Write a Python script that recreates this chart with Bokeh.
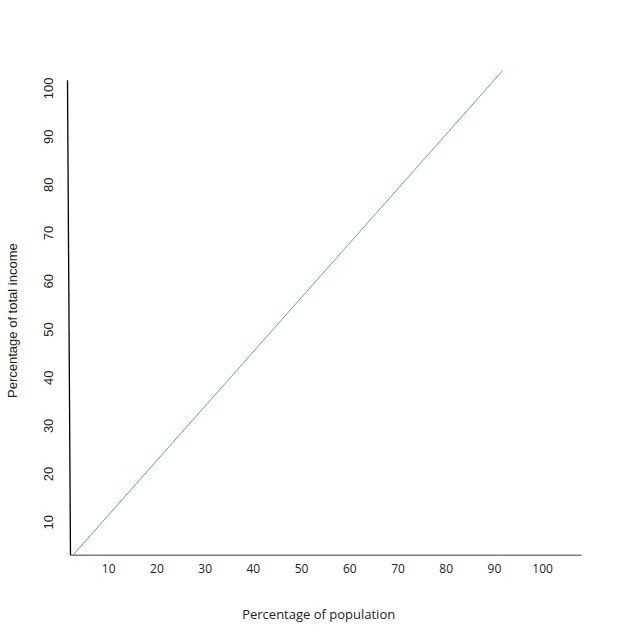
from bokeh.plotting import figure
from bokeh.models import Range1d, FixedTicker
from bokeh.embed import file_html
from bokeh.resources import INLINE

# data
x_ticks = [10, 20, 30, 40, 50, 60, 70, 80, 90, 100]
y_ticks = [10, 20, 30, 40, 50, 60, 70, 80, 90, 100]
equality_x = [2.5, 91.7]
equality_y = [3.1, 103.7]
yaxis_x = [1.45, 2.07]
yaxis_y = [101.7, 3.11]
xaxis_x = [2.07, 108.1]
xaxis_y = [3.11, 3.11]

NBSP = "\u00a0"

p = figure(frame_width=540, frame_height=495, output_backend="svg", toolbar_location=None,
           x_range=Range1d(0, 112.0), y_range=Range1d(3.11, 105.8),
           min_border_left=60, min_border_right=20, min_border_top=60, min_border_bottom=72)
p.outline_line_color = None
p.xgrid.visible = False
p.ygrid.visible = False

for ax in (p.xaxis[0], p.yaxis[0]):
    ax.axis_line_color = None
    ax.major_tick_line_color = None
    ax.minor_tick_line_color = None
    ax.major_tick_out = 0
    ax.major_tick_in = 0
    ax.axis_label_text_font_style = "normal"
    ax.axis_label_text_color = "#222222"
    ax.major_label_text_color = "#222222"

p.xaxis.ticker = FixedTicker(ticks=x_ticks)
p.yaxis.ticker = FixedTicker(ticks=y_ticks)
p.xaxis.axis_label = "Percentage of population" + NBSP * 7
p.yaxis.axis_label = "Percentage of total income" + NBSP * 7
p.xaxis.major_label_text_font = "Open Sans"
p.xaxis.major_label_text_font_size = "12px"
p.yaxis.major_label_text_font = "Liberation Sans"
p.yaxis.major_label_text_font_size = "13px"
p.yaxis.major_label_orientation = "vertical"
p.xaxis.axis_label_text_font = "Open Sans"
p.yaxis.axis_label_text_font = "Liberation Sans"
p.xaxis.axis_label_text_font_size = "13px"
p.yaxis.axis_label_text_font_size = "13px"
p.xaxis.major_label_standoff = 8
p.yaxis.major_label_standoff = 7
p.xaxis.axis_label_standoff = 29
p.yaxis.axis_label_standoff = 22

p.line(yaxis_x, yaxis_y, line_color="black", line_width=1.3)
p.line(xaxis_x, xaxis_y, line_color="black", line_width=1.3)
p.line(equality_x, equality_y, line_color="#5B9BD5", line_width=1)

open("out.html", "w").write(file_html(p, INLINE))
